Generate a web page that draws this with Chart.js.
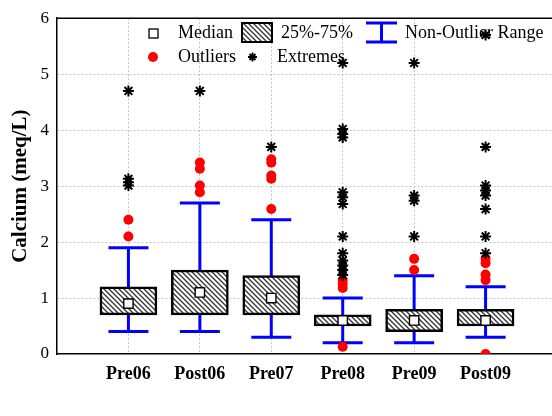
<!DOCTYPE html>
<html>
<head>
<meta charset="utf-8">
<script src="https://cdn.jsdelivr.net/npm/chart.js@4.4.1/dist/chart.umd.min.js"></script>
<style>
  html, body { margin: 0; padding: 0; background: #fff; overflow: hidden; }
  #wrap { width: 557px; height: 416px; }
</style>
</head>
<body>
<div id="wrap"><canvas id="boxChart" width="557" height="416"></canvas></div>
<script>
// Calcium box plot, pre/post sampling campaigns

const categories = ['Pre06', 'Post06', 'Pre07', 'Pre08', 'Pre09', 'Post09'];
const medians = [0.9, 1.1, 1.0, 0.6, 0.6, 0.6];
const q1 = [0.7, 0.7, 0.7, 0.5, 0.4, 0.5];
const q3 = [1.2, 1.5, 1.4, 0.7, 0.8, 0.8];
const whiskerLow = [0.4, 0.4, 0.3, 0.2, 0.2, 0.3];
const whiskerHigh = [1.9, 2.7, 2.4, 1.0, 1.4, 1.2];
const outliers = [
  [2.4, 2.1],
  [3.42, 3.31, 3.01, 2.89],
  [3.48, 3.42, 3.19, 3.13, 2.59],
  [1.32, 1.25, 1.18, 0.13],
  [1.7, 1.5],
  [1.7, 1.62, 1.42, 1.32, 0.0]
];
const extremes = [
  [4.7, 3.13, 3.07, 3.01],
  [4.7],
  [3.7],
  [5.2, 4.02, 3.93, 3.87, 2.89, 2.8, 2.68, 2.1, 1.8, 1.67, 1.58, 1.5, 1.41],
  [5.2, 2.83, 2.74, 2.1],
  [5.7, 3.7, 3.01, 2.92, 2.83, 2.59, 2.1, 1.8]
];
const yTicks = [0, 1, 2, 3, 4, 5, 6];

const SERIF = '"Liberation Serif", "DejaVu Serif", serif';
const BLUE = '#0000ff';

// hatch fill for the 25%-75% boxes
function makeHatch() {
  const c = document.createElement('canvas');
  c.width = 5; c.height = 5;
  const g = c.getContext('2d');
  g.fillStyle = '#fff';
  g.fillRect(0, 0, 5, 5);
  g.strokeStyle = '#333';
  g.lineWidth = 1.3;
  g.beginPath();
  g.moveTo(-1, -1); g.lineTo(6, 6);
  g.moveTo(-1, 4); g.lineTo(1, 6);
  g.moveTo(4, -1); g.lineTo(6, 1);
  g.stroke();
  return g.createPattern(c, 'repeat');
}
const hatch = makeHatch();

// build chart data from the arrays
const stemData = [];
const capData = [];
categories.forEach((_, i) => {
  stemData.push({ x: i + 1, y: whiskerLow[i] }, { x: i + 1, y: whiskerHigh[i] }, { x: i + 1, y: null });
  capData.push({ x: i + 1, y: whiskerLow[i] }, { x: i + 1, y: whiskerHigh[i] });
});
const boxData = categories.map((_, i) => ({ x: i + 1, y: [q1[i], q3[i]] }));
const medianData = medians.map((m, i) => ({ x: i + 1, y: m }));
const outlierData = outliers.flatMap((vals, i) => vals.map(v => ({ x: i + 1, y: v })));
const extremeData = extremes.flatMap((vals, i) => vals.map(v => ({ x: i + 1, y: v })));

const decor = {
  id: 'decor',
  afterDraw(chart) {
    const { ctx, chartArea: a } = chart;
    ctx.save();
    // top frame line
    ctx.strokeStyle = '#000';
    ctx.lineWidth = 1.5;
    ctx.beginPath();
    ctx.moveTo(a.left, a.top);
    ctx.lineTo(a.right, a.top);
    ctx.stroke();

    // y axis title
    ctx.translate(21, (a.top + a.bottom) / 2);
    ctx.rotate(-Math.PI / 2);
    ctx.fillStyle = '#000';
    ctx.font = 'bold 21px ' + SERIF;
    ctx.textAlign = 'center';
    ctx.textBaseline = 'middle';
    ctx.fillText('Calcium (meq/L)', 0, 0);
    ctx.restore();

    // legend
    ctx.save();
    ctx.font = '18px ' + SERIF;
    ctx.fillStyle = '#000';
    ctx.textBaseline = 'middle';
    const r1 = 33, r2 = 57;
    // median marker
    ctx.fillStyle = '#fff';
    ctx.strokeStyle = '#000';
    ctx.lineWidth = 1.3;
    ctx.fillRect(149, r1 - 4, 9, 9);
    ctx.strokeRect(149, r1 - 4, 9, 9);
    ctx.fillStyle = '#000';
    ctx.fillText('Median', 178, r1);
    // box
    ctx.fillStyle = hatch;
    ctx.fillRect(242, r1 - 10, 30, 19);
    ctx.lineWidth = 2;
    ctx.strokeRect(242, r1 - 10, 30, 19);
    ctx.fillStyle = '#000';
    ctx.fillText('25%-75%', 281, r1);
    // whisker
    ctx.strokeStyle = BLUE;
    ctx.lineWidth = 3;
    ctx.beginPath();
    ctx.moveTo(366, r1 - 10); ctx.lineTo(397, r1 - 10);
    ctx.moveTo(366, r1 + 9); ctx.lineTo(397, r1 + 9);
    ctx.moveTo(381.5, r1 - 10); ctx.lineTo(381.5, r1 + 9);
    ctx.stroke();
    ctx.fillText('Non-Outlier Range', 405, r1);
    // outliers
    ctx.fillStyle = 'red';
    ctx.beginPath();
    ctx.arc(153, r2, 5, 0, Math.PI * 2);
    ctx.fill();
    ctx.fillStyle = '#000';
    ctx.fillText('Outliers', 178, r2);
    // extremes
    ctx.strokeStyle = '#000';
    ctx.lineWidth = 1.8;
    ctx.beginPath();
    ctx.moveTo(248, r2); ctx.lineTo(257, r2);
    ctx.moveTo(252.5, r2 - 4.5); ctx.lineTo(252.5, r2 + 4.5);
    ctx.moveTo(249.5, r2 - 3); ctx.lineTo(255.5, r2 + 3);
    ctx.moveTo(249.5, r2 + 3); ctx.lineTo(255.5, r2 - 3);
    ctx.stroke();
    ctx.fillText('Extremes', 277, r2);
    ctx.restore();
  }
};

const gridColor = (c) => {
  const v = c.tick ? c.tick.value : null;
  return (v === 0 || v === 6 || v === 7) ? 'rgba(0,0,0,0)' : '#c4c4c4';
};

new Chart(document.getElementById('boxChart'), {
  data: {
    datasets: [
      {
        type: 'line', label: 'Non-Outlier Range', data: stemData,
        borderColor: BLUE, borderWidth: 3, pointRadius: 0, spanGaps: false, order: 10
      },
      {
        type: 'scatter', label: 'Non-Outlier Range caps', data: capData,
        pointStyle: 'line', pointRadius: 20, pointHoverRadius: 20,
        borderColor: BLUE, pointBorderWidth: 3, order: 9
      },
      {
        type: 'bar', label: '25%-75%', data: boxData,
        backgroundColor: hatch, borderColor: '#000', borderWidth: 2.5,
        borderSkipped: false, barThickness: 57, order: 5
      },
      {
        type: 'scatter', label: 'Median', data: medianData,
        pointStyle: 'rect', pointRadius: 6.6, pointHoverRadius: 6.6,
        backgroundColor: '#fff', borderColor: '#000', pointBorderWidth: 1.4, order: 2
      },
      {
        type: 'scatter', label: 'Outliers', data: outlierData,
        pointStyle: 'circle', pointRadius: 5, pointHoverRadius: 5,
        backgroundColor: 'red', borderColor: 'red', pointBorderWidth: 0, order: 1
      },
      {
        type: 'scatter', label: 'Extremes', data: extremeData,
        pointStyle: 'star', pointRadius: 5.5, pointHoverRadius: 5.5,
        borderColor: '#000', pointBorderWidth: 2, order: 0
      }
    ]
  },
  options: {
    responsive: false,
    animation: false,
    layout: { autoPadding: false, padding: { top: 17, left: 0, right: 0, bottom: 0 } },
    scales: {
      x: {
        type: 'linear', min: 0, max: 7, offset: false,
        afterFit: (s) => { s.height = 62; s.paddingRight = 0; s.paddingLeft = 0; },
        afterBuildTicks: (s) => { s.ticks = [0, 1, 2, 3, 4, 5, 6, 7].map(v => ({ value: v })); },
        ticks: {
          autoSkip: false, maxRotation: 0, padding: 10, color: '#000',
          font: { family: SERIF, size: 18, weight: 'bold' },
          callback: (v) => categories[v - 1] || ''
        },
        grid: { color: gridColor, lineWidth: 1, drawTicks: false, offset: false },
        border: { display: true, color: '#000', width: 1.5, dash: [2, 2] }
      },
      y: {
        min: 0, max: 6,
        afterFit: (s) => { s.width = 57; },
        afterBuildTicks: (s) => { s.ticks = yTicks.map(v => ({ value: v })); },
        ticks: {
          padding: 8, color: '#000',
          font: { family: SERIF, size: 17 }
        },
        grid: { color: gridColor, lineWidth: 1, drawTicks: false },
        border: { display: true, color: '#000', width: 1.5, dash: [2, 2] }
      }
    },
    plugins: {
      legend: { display: false },
      tooltip: { enabled: false }
    }
  },
  plugins: [decor]
});
</script>
</body>
</html>
